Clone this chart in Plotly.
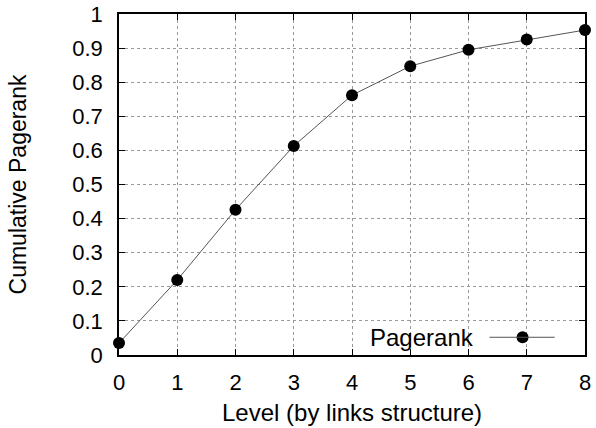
import plotly.graph_objects as go

# Cumulative pagerank captured at each crawl level
levels = [0, 1, 2, 3, 4, 5, 6, 7, 8]
cumulative_pagerank = [0.035, 0.220, 0.426, 0.613, 0.762, 0.847, 0.895, 0.925, 0.953]

x_ticks = [0, 1, 2, 3, 4, 5, 6, 7, 8]
y_ticks = [0, 0.1, 0.2, 0.3, 0.4, 0.5, 0.6, 0.7, 0.8, 0.9, 1]
y_tick_text = ["0", "0.1", "0.2", "0.3", "0.4", "0.5", "0.6", "0.7", "0.8", "0.9", "1"]

series_name = "Pagerank"
x_title = "Level (by links structure)"
y_title = "Cumulative Pagerank"
font_family = "Liberation Sans, Arial, sans-serif"

fig = go.Figure()
fig.add_trace(go.Scatter(
    x=levels,
    y=cumulative_pagerank,
    mode="lines+markers",
    name=series_name,
    line=dict(color="#555555", width=1),
    marker=dict(color="black", size=12),
    cliponaxis=False,
    showlegend=False,
))

axis_common = dict(
    showline=True,
    linecolor="black",
    linewidth=1.5,
    mirror="ticks",
    ticks="inside",
    ticklen=6,
    tickwidth=1,
    tickcolor="black",
    showgrid=True,
    gridcolor="#9a9a9a",
    griddash="dot",
    gridwidth=1,
    zeroline=False,
    automargin=False,
    tickfont=dict(family=font_family, size=22, color="black"),
)

fig.update_xaxes(
    range=[0, 8],
    tickvals=x_ticks,
    ticktext=[str(v) for v in x_ticks],
    ticklabelstandoff=7,
    **axis_common,
)
fig.update_yaxes(
    range=[0, 1],
    tickvals=y_ticks,
    ticktext=y_tick_text,
    title=dict(text=y_title,
               font=dict(family=font_family, size=23, color="black"),
               standoff=39),
    ticklabelstandoff=10,
    **axis_common,
)

# X-axis title placed under the tick labels
fig.add_annotation(
    xref="paper", yref="paper", x=0.5, y=0, yshift=-57,
    text=x_title, showarrow=False, xanchor="center", yanchor="middle",
    font=dict(family=font_family, size=24, color="black"),
)

# Key in the lower-right corner: label on the left, line sample with marker on the right
fig.add_annotation(
    xref="paper", yref="paper", x=0.766, y=0.052,
    text=series_name, showarrow=False, xanchor="right", yanchor="middle",
    font=dict(family=font_family, size=24, color="black"),
)
fig.add_shape(type="line", xref="paper", yref="paper",
              x0=0.795, x1=0.935, y0=0.052, y1=0.052,
              line=dict(color="#555555", width=1))
fig.add_trace(go.Scatter(
    x=[0.866], y=[0.052], xaxis="x2", yaxis="y2",
    mode="markers", marker=dict(color="black", size=12),
    showlegend=False, hoverinfo="skip",
))
fig.update_layout(
    xaxis2=dict(overlaying="x", range=[0, 1], visible=False, anchor="y2"),
    yaxis2=dict(overlaying="y", range=[0, 1], visible=False, anchor="x2"),
)

fig.update_layout(
    width=596,
    height=428,
    margin=dict(l=119, r=11, t=14, b=73),
    plot_bgcolor="white",
    paper_bgcolor="white",
    font=dict(family=font_family, color="black"),
)

fig.write_html("out.html")
